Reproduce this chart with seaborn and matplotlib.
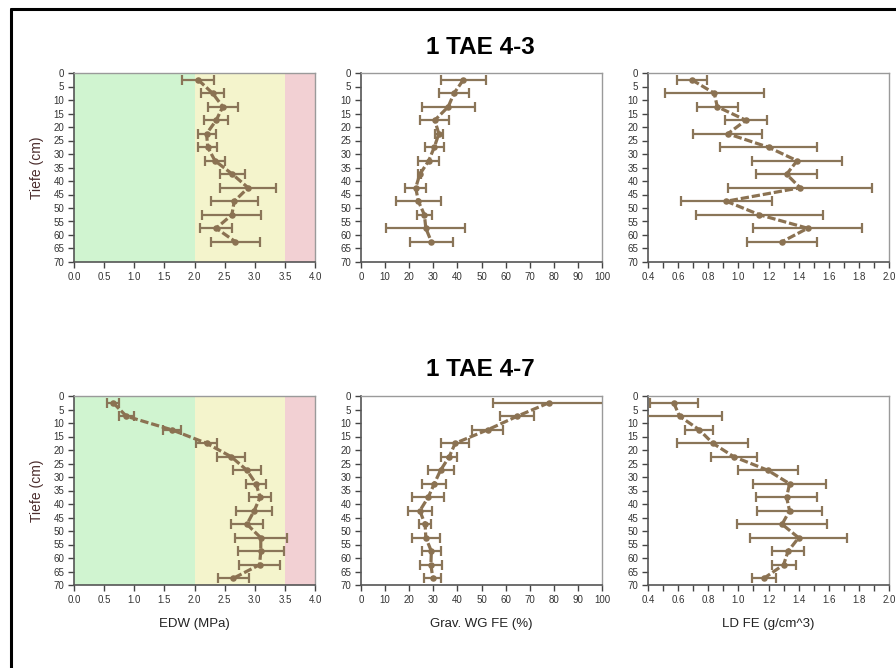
import numpy as np
import pandas as pd
import matplotlib
matplotlib.use("Agg")
import matplotlib.pyplot as plt
from matplotlib.lines import Line2D
from matplotlib.ticker import MultipleLocator
from matplotlib import font_manager
import seaborn as sns

# ---- data ---------------------------------------------------------------
depth_43 = [2.5, 7.5, 12.5, 17.5, 22.5, 27.5, 32.5, 37.5, 42.5, 47.5, 52.5, 57.5, 62.5]
depth_47 = [2.5, 7.5, 12.5, 17.5, 22.5, 27.5, 32.5, 37.5, 42.5, 47.5, 52.5, 57.5, 62.5, 67.5]

edw_43 = [2.06, 2.30, 2.47, 2.36, 2.20, 2.22, 2.34, 2.63, 2.89, 2.66, 2.62, 2.36, 2.68]
edw_43_sd = [0.27, 0.19, 0.25, 0.20, 0.15, 0.16, 0.17, 0.20, 0.47, 0.39, 0.49, 0.27, 0.41]
wg_43 = [42.5, 38.6, 36.2, 30.6, 32.3, 30.4, 28.1, 24.4, 22.7, 23.8, 26.3, 26.9, 29.2]
wg_43_sd = [9.5, 6.2, 10.9, 6.1, 1.7, 4.0, 4.3, 0.7, 4.3, 9.3, 3.1, 16.4, 8.8]
ld_43 = [0.69, 0.84, 0.86, 1.05, 0.93, 1.20, 1.39, 1.32, 1.41, 0.92, 1.14, 1.46, 1.29]
ld_43_sd = [0.10, 0.33, 0.135, 0.14, 0.23, 0.32, 0.30, 0.20, 0.48, 0.30, 0.42, 0.36, 0.235]

edw_47 = [0.65, 0.87, 1.62, 2.20, 2.61, 2.87, 3.02, 3.09, 2.99, 2.87, 3.10, 3.10, 3.08, 2.645]
edw_47_sd = [0.105, 0.13, 0.15, 0.17, 0.235, 0.23, 0.16, 0.18, 0.30, 0.27, 0.43, 0.38, 0.335, 0.26]
wg_47 = [78.0, 64.8, 52.6, 39.1, 36.6, 33.0, 30.4, 27.9, 24.4, 26.6, 26.9, 29.2, 29.0, 29.8]
wg_47_sd = [23.1, 7.0, 6.5, 5.7, 3.2, 5.4, 5.0, 6.6, 5.0, 2.6, 5.9, 3.8, 4.6, 3.6]
ld_47 = [0.57, 0.61, 0.74, 0.83, 0.97, 1.195, 1.34, 1.32, 1.34, 1.29, 1.40, 1.33, 1.30, 1.17]
ld_47_sd = [0.16, 0.28, 0.093, 0.236, 0.153, 0.20, 0.24, 0.20, 0.214, 0.30, 0.32, 0.104, 0.08, 0.08]

titles = ["1 TAE 4-3", "1 TAE 4-7"]
xlabels = ["EDW (MPa)", "Grav. WG FE (%)", "LD FE (g/cm^3)"]
ylabel = "Tiefe (cm)"

# ---- style --------------------------------------------------------------
sns.set_style("white")
avail = {f.name for f in font_manager.fontManager.ttflist}
narrow = [f for f in ["Liberation Sans Narrow", "Liberation Sans", "DejaVu Sans"] if f in avail]
plt.rcParams["font.family"] = narrow

LINE = "#8b7252"
ERR = "#8a7558"

W, H = 896, 668
fig = plt.figure(figsize=(W / 100, H / 100), dpi=100)
fig.patch.set_facecolor("white")

col_left = [74, 361, 648]
col_width = 241
row_top = [73, 396]
row_height = 189

xlims = [(0, 4.0), (0, 100), (0.4, 2.0)]
major_steps = [0.5, 10, 0.2]
minor_steps = [0.5, 10, 0.1]
fmts = ["{:.1f}", "{:.0f}", "{:.1f}"]

rows = [
    (depth_43, [(edw_43, edw_43_sd), (wg_43, wg_43_sd), (ld_43, ld_43_sd)]),
    (depth_47, [(edw_47, edw_47_sd), (wg_47, wg_47_sd), (ld_47, ld_47_sd)]),
]

for r, (depth, series) in enumerate(rows):
    for c, (vals, sds) in enumerate(series):
        left = col_left[c] / W
        bottom = 1 - (row_top[r] + row_height) / H
        ax = fig.add_axes([left, bottom, col_width / W, row_height / H])
        df = pd.DataFrame({"depth": depth, "value": vals, "sd": sds})

        if c == 0:
            ax.axvspan(0, 2.0, color="#d0f4d0", lw=0, zorder=0)
            ax.axvspan(2.0, 3.5, color="#f4f4cc", lw=0, zorder=0)
            ax.axvspan(3.5, 4.0, color="#f2d0d3", lw=0, zorder=0)

        ax.errorbar(df["value"], df["depth"], xerr=df["sd"], fmt="none",
                    ecolor=ERR, elinewidth=1.6, capsize=3.8, capthick=1.6, zorder=3)
        sns.lineplot(data=df, x="value", y="depth", sort=False, estimator=None,
                     ax=ax, color=LINE, lw=2.3, dashes=False, zorder=4)
        ax.lines[-1].set_dashes([2.6, 0.9])
        sns.scatterplot(data=df, x="value", y="depth", ax=ax, color=LINE,
                        s=22, edgecolor=LINE, linewidth=0, zorder=5)

        ax.set_xlim(*xlims[c])
        ax.set_ylim(70, 0)
        ax.xaxis.set_major_locator(MultipleLocator(major_steps[c]))
        ax.xaxis.set_minor_locator(MultipleLocator(minor_steps[c]))
        ax.set_xticklabels([fmts[c].format(t) for t in ax.get_xticks()])
        ax.set_xlim(*xlims[c])
        ax.set_yticks(range(0, 71, 5))
        ax.set_yticklabels([str(v) for v in range(0, 71, 5)])

        ax.tick_params(axis="both", which="both", direction="out", length=4, width=1,
                       color="#444444", labelsize=7, labelcolor="#333333", pad=3,
                       bottom=True, left=True)
        for side in ["left", "bottom"]:
            ax.spines[side].set_color("#555555")
            ax.spines[side].set_linewidth(1.2)
        for side in ["top", "right"]:
            ax.spines[side].set_color("#9a9a9a")
            ax.spines[side].set_linewidth(1.0)

        ax.set_xlabel("")
        ax.set_ylabel("")
        if r == 1:
            ax.set_xlabel(xlabels[c], fontsize=9.5, color="#222222")
            ax.xaxis.set_label_coords(0.5, -0.175)
        if c == 0:
            ax.set_ylabel(ylabel, fontsize=10, color="#4a2c2c")
            ax.yaxis.set_label_coords(-0.125, 0.5)

for r, t in enumerate(titles):
    y = 47 if r == 0 else 370
    fig.text(480 / W, 1 - y / H, t, ha="center", va="center",
             fontsize=17.5, fontweight="bold", color="black")

# page frame lines
fig.add_artist(Line2D([11 / W, 11 / W], [0, 1 - 9 / H], color="black", lw=2.2,
                      transform=fig.transFigure))
fig.add_artist(Line2D([11 / W, 1], [1 - 9 / H, 1 - 9 / H], color="black", lw=2.2,
                      transform=fig.transFigure))

fig.savefig("out.png", dpi=100, facecolor="white")
